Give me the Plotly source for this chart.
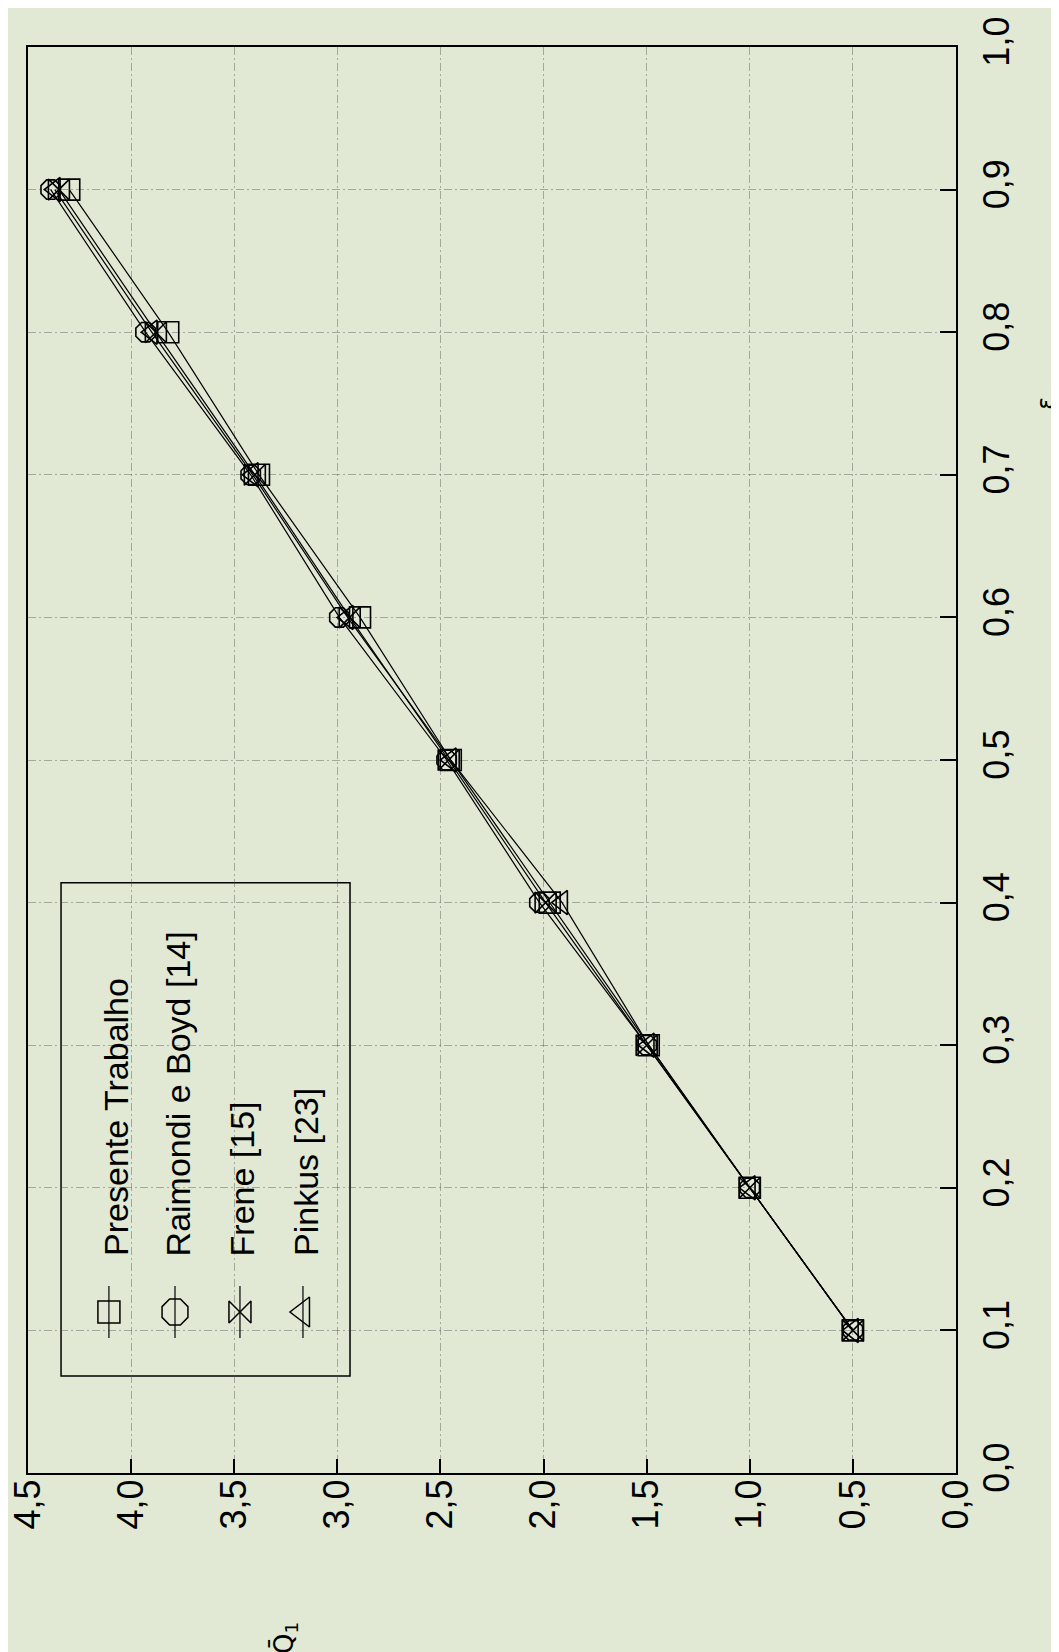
import plotly.graph_objects as go

# ---------------- data ----------------
eps = [0.1, 0.2, 0.3, 0.4, 0.5, 0.6, 0.7, 0.8, 0.9]
q_presente = [0.50, 1.00, 1.49, 1.97, 2.45, 2.89, 3.38, 3.82, 4.30]
q_raimondi = [0.50, 1.00, 1.50, 2.02, 2.47, 2.99, 3.42, 3.93, 4.39]
q_frene = [0.50, 1.00, 1.50, 1.99, 2.46, 2.94, 3.40, 3.88, 4.35]
q_pinkus = [0.50, 1.00, 1.49, 1.91, 2.45, 2.95, 3.41, 3.90, 4.37]

series_names = ["Presente Trabalho", "Raimondi e Boyd [14]", "Frene [15]", "Pinkus [23]"]
series_values = [q_presente, q_raimondi, q_frene, q_pinkus]
series_symbols = ["square-open", "octagon-open", "bowtie-open", "triangle-left-open"]

q_ticks = [0.0, 0.5, 1.0, 1.5, 2.0, 2.5, 3.0, 3.5, 4.0, 4.5]
q_ticktext = ["0,0", "0,5", "1,0", "1,5", "2,0", "2,5", "3,0", "3,5", "4,0", "4,5"]
eps_ticks = [0.0, 0.1, 0.2, 0.3, 0.4, 0.5, 0.6, 0.7, 0.8, 0.9, 1.0]
eps_ticktext = ["0,0", "0,1", "0,2", "0,3", "0,4", "0,5", "0,6", "0,7", "0,8", "0,9", "1,0"]

# ---------------- style ----------------
BG = "#e1e9d5"
FONT = "Liberation Sans, Arial, sans-serif"
W, H = 1059, 1652
L, R, T, B = 20, 111, 39, 187

fig = go.Figure()

for name, vals, sym in zip(series_names, series_values, series_symbols):
    fig.add_trace(go.Scatter(
        x=vals, y=eps, mode="lines+markers", name=name, showlegend=False,
        line=dict(color="black", width=1.2),
        marker=dict(symbol=sym, size=21, color="black", line=dict(color="black", width=1.6)),
    ))

# ---------- hand-made rotated legend (overlay axes in 0..1 plot units) ----------
leg_sym_x = [0.0872, 0.1584, 0.2284, 0.2963]
leg_text_x = [0.0948, 0.1616, 0.2306, 0.2996]
leg_y = [0.0947, 0.1129, 0.1311]
leg_sizes = [22, 28, 22, 26]
for sx, name, sym, sz in zip(leg_sym_x, series_names, series_symbols, leg_sizes):
    fig.add_trace(go.Scatter(
        x=[sx, sx, sx], y=leg_y, xaxis="x2", yaxis="y2", mode="lines+markers",
        showlegend=False, hoverinfo="skip",
        line=dict(color="black", width=1.2),
        marker=dict(symbol=sym, size=sz, color="black", opacity=[0, 1, 0],
                    line=dict(color="black", width=1.5)),
    ))

annotations = []
for tx, name in zip(leg_text_x, series_names):
    annotations.append(dict(
        x=tx, y=0.1508, xref="paper", yref="paper", text=name, showarrow=False,
        textangle=-90, xanchor="center", yanchor="bottom",
        font=dict(family=FONT, size=34, color="black"),
    ))

# axis titles
annotations.append(dict(
    x=0.2769, y=-0.1157, xref="paper", yref="paper", text="Q\u0304<sub>1</sub>",
    showarrow=False, textangle=-90, xanchor="center", yanchor="middle",
    font=dict(family="DejaVu Sans, sans-serif", size=26, color="black"),
))
annotations.append(dict(
    x=1.1140, y=0.7504, xref="paper", yref="paper", text="\u03b5",
    showarrow=False, textangle=-90, xanchor="right", yanchor="middle",
    font=dict(family="DejaVu Sans, sans-serif", size=24, color="black"),
))

shapes = [dict(
    type="rect", xref="paper", yref="paper", x0=0.0356, x1=0.347, y0=0.068, y1=0.414,
    line=dict(color="black", width=1.5), fillcolor=BG, layer="between",
)]

grid = dict(showgrid=True, gridcolor="rgba(70,70,70,0.40)", gridwidth=1, griddash="8px,3px,2px,3px")

fig.update_layout(
    width=W, height=H,
    margin=dict(l=L, r=R, t=T, b=B, pad=0, autoexpand=False),
    paper_bgcolor=BG, plot_bgcolor=BG,
    font=dict(family=FONT, color="black"),
    showlegend=False,
    xaxis=dict(
        range=[4.5, 0.0], tickmode="array", tickvals=q_ticks, ticktext=q_ticktext,
        tickangle=-90, ticks="inside", ticklen=14, tickwidth=1.5, tickcolor="black",
        tickfont=dict(family=FONT, size=36, color="black"), ticklabelstandoff=-10,
        ticklabeloverflow="allow", automargin=False,
        showline=True, linecolor="black", linewidth=2, mirror=True,
        zeroline=False, **grid,
    ),
    yaxis=dict(
        range=[0.0, 1.0], side="right", tickmode="array", tickvals=eps_ticks,
        ticktext=eps_ticktext, tickangle=-90, ticks="inside", ticklen=16, tickwidth=1.5,
        tickcolor="black", tickfont=dict(family=FONT, size=36, color="black"),
        ticklabelstandoff=8, ticklabeloverflow="allow", automargin=False,
        showline=True, linecolor="black", linewidth=2, mirror=True,
        zeroline=False, **grid,
    ),
    xaxis2=dict(range=[0, 1], overlaying="x", anchor="y2", visible=False, fixedrange=True),
    yaxis2=dict(range=[0, 1], overlaying="y", anchor="x2", visible=False, fixedrange=True),
    annotations=annotations,
    shapes=shapes,
)

fig.write_html("out.html", config=dict(displayModeBar=False))
